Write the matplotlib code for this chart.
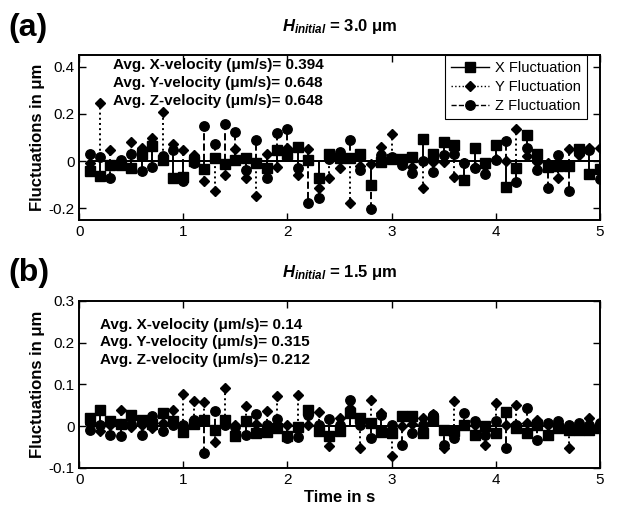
import numpy as np
import matplotlib
matplotlib.use("Agg")
import matplotlib.pyplot as plt
from matplotlib.lines import Line2D
from matplotlib.legend_handler import HandlerLine2D

plt.rcParams['font.family'] = ['Liberation Sans', 'DejaVu Sans']
plt.rcParams['mathtext.fontset'] = 'custom'
plt.rcParams['mathtext.it'] = 'Liberation Sans:bold:italic'
plt.rcParams['mathtext.rm'] = 'Liberation Sans:bold'

# time samples, 0.1 s .. 5.0 s
t = np.round(np.arange(1, 51) * 0.1, 1)

# panel (a): H_initial = 3.0 um
xa = [-0.040, -0.063, -0.017, -0.017, -0.028, 0.028, 0.063, 0.004, -0.073, -0.068,
      0.000, -0.034, 0.014, -0.014, 0.004, 0.014, -0.007, -0.031, 0.046, 0.028,
      0.060, 0.004, -0.073, 0.032, 0.015, 0.011, 0.028, -0.100, -0.003, 0.007,
      0.007, 0.018, 0.092, 0.029, 0.081, 0.067, -0.080, 0.057, -0.010, 0.067,
      -0.108, -0.031, 0.109, 0.032, -0.024, -0.021, -0.021, 0.050, -0.056, -0.035]
ya = [-0.010, 0.245, 0.049, -0.005, 0.081, 0.057, 0.099, 0.210, 0.074, 0.046,
      0.025, -0.083, -0.126, -0.059, 0.053, -0.073, -0.150, 0.029, -0.024, 0.057,
      -0.059, 0.053, -0.115, -0.073, -0.031, -0.180, -0.020, -0.013, 0.060, 0.116,
      -0.005, -0.024, -0.115, -0.005, -0.003, -0.066, -0.010, -0.024, -0.020, 0.008,
      0.000, 0.137, 0.020, -0.003, -0.010, -0.073, 0.053, 0.025, 0.057, 0.057]
za = [0.030, 0.018, -0.073, 0.005, 0.032, -0.042, -0.027, 0.021, 0.046, -0.085,
      -0.010, 0.147, 0.071, 0.158, 0.123, -0.038, 0.088, -0.073, 0.120, 0.137,
      -0.031, -0.178, -0.155, 0.010, 0.039, 0.088, -0.038, -0.205, 0.025, 0.018,
      -0.017, -0.052, 0.000, -0.048, 0.025, 0.032, -0.010, -0.028, -0.055, 0.005,
      0.085, -0.090, 0.057, -0.038, -0.115, 0.025, -0.125, 0.040, 0.046, -0.077]

# panel (b): H_initial = 1.5 um
xb = [0.020, 0.040, 0.012, 0.006, 0.028, 0.016, 0.005, 0.032, 0.012, -0.014,
      0.005, 0.016, -0.010, 0.016, -0.024, 0.012, -0.016, -0.014, -0.004, -0.024,
      -0.002, 0.040, -0.012, -0.024, -0.012, 0.032, 0.020, 0.008, -0.014, -0.016,
      0.024, 0.024, -0.016, 0.016, -0.008, -0.012, 0.004, -0.020, 0.000, -0.016,
      0.034, -0.004, -0.016, 0.003, -0.020, -0.004, -0.008, -0.008, -0.008, -0.004]
yb = [0.005, -0.012, 0.003, 0.040, -0.002, 0.003, -0.004, 0.008, 0.040, 0.078,
      0.060, 0.058, -0.038, 0.092, 0.003, 0.048, 0.005, 0.036, 0.072, 0.002,
      0.074, 0.004, 0.034, -0.048, 0.020, 0.044, -0.053, 0.062, 0.032, -0.071,
      0.000, 0.005, 0.020, 0.030, -0.053, 0.060, 0.002, 0.004, -0.045, 0.056,
      0.003, 0.050, 0.008, 0.016, 0.003, 0.002, -0.053, 0.003, 0.020, 0.002]
zb = [-0.010, 0.002, -0.020, -0.024, 0.005, -0.020, 0.024, -0.012, 0.002, 0.004,
      0.016, -0.064, 0.036, 0.004, -0.002, -0.022, 0.030, 0.003, 0.018, -0.028,
      -0.026, 0.028, 0.003, 0.018, 0.004, 0.064, 0.003, -0.027, 0.028, 0.002,
      -0.045, -0.016, 0.004, 0.028, -0.045, -0.028, 0.032, 0.012, -0.020, 0.012,
      -0.053, 0.004, 0.044, -0.033, 0.008, 0.012, 0.002, 0.008, 0.003, 0.008]

series_names = ['X Fluctuation', 'Y Fluctuation', 'Z Fluctuation']
titles = [r'$H_{initial}$ = 3.0 μm', r'$H_{initial}$ = 1.5 μm']
avg_a = ['0.394', '0.648', '0.648']
avg_b = ['0.14', '0.315', '0.212']
yticks_a = [-0.2, 0, 0.2, 0.4]
yticks_b = [-0.1, 0, 0.1, 0.2, 0.3]

styles = [('-', 's', 6.5), (':', 'D', 5.2), ('--', 'o', 6.8)]


class EndMarker(HandlerLine2D):
    def get_xdata(self, legend, xdescent, ydescent, width, height, fontsize):
        xd = np.array([-xdescent, -xdescent + width])
        return xd, np.array([-xdescent + width - 3])


def panel(ax, data, ylim, yticks, avgs, txt_xy, dy, title, letter):
    for vals, (ls, mk, ms) in zip(data, styles):
        ml, sl, bl = ax.stem(t, vals, linefmt='k' + ls, markerfmt='k' + mk, basefmt='k-')
        ml.set_markersize(ms)
        sl.set_linewidth(1.4)
        bl.set_linewidth(1.4)
    ax.set_xlim(0, 5)
    ax.set_ylim(*ylim)
    ax.set_yticks(yticks)
    ax.set_yticklabels(['%g' % v for v in yticks])
    ax.set_xticks(range(6))
    ax.tick_params(direction='in', top=True, right=True, labelsize=11, length=5, width=1)
    for s in ax.spines.values():
        s.set_linewidth(1.4)
    ax.set_ylabel('Fluctuations in μm', fontsize=12, fontweight='bold', labelpad=2)
    ax.set_title(title, fontsize=12, fontweight='bold', pad=17)
    for i, (c, v) in enumerate(zip('XYZ', avgs)):
        ax.text(txt_xy[0], txt_xy[1] - i * dy, 'Avg. %s-velocity (μm/s)= %s' % (c, v),
                transform=ax.transAxes, fontsize=11, fontweight='bold', va='center')
    ax.text(-0.137, 1.165, letter, transform=ax.transAxes, fontsize=23, fontweight='bold',
            va='center', ha='left')


fig = plt.figure(figsize=(6.34, 5.17), dpi=100)
ax1 = fig.add_axes([0.125, 0.5745, 0.821, 0.319])
ax2 = fig.add_axes([0.125, 0.0948, 0.821, 0.323])

panel(ax1, [xa, ya, za], (-0.25, 0.45), yticks_a, avg_a, (0.065, 0.94), 0.109, titles[0], '(a)')
panel(ax2, [xb, yb, zb], (-0.1, 0.3), yticks_b, avg_b, (0.04, 0.856), 0.104, titles[1], '(b)')
ax2.set_xlabel('Time in s', fontsize=12, fontweight='bold', labelpad=2)

handles = [Line2D([], [], color='k', ls=ls, marker=mk, markersize=ms, lw=1)
           for ls, mk, ms in styles]
leg = ax1.legend(handles, series_names, loc='upper right', bbox_to_anchor=(0.975, 1.0),
                 borderaxespad=0, fancybox=False, framealpha=1, edgecolor='k',
                 fontsize=10.5, handlelength=2.6, handletextpad=0.4, labelspacing=0.35,
                 handler_map={Line2D: EndMarker(numpoints=1)})
leg.get_frame().set_linewidth(0.8)

fig.savefig('out.png', dpi=100)
